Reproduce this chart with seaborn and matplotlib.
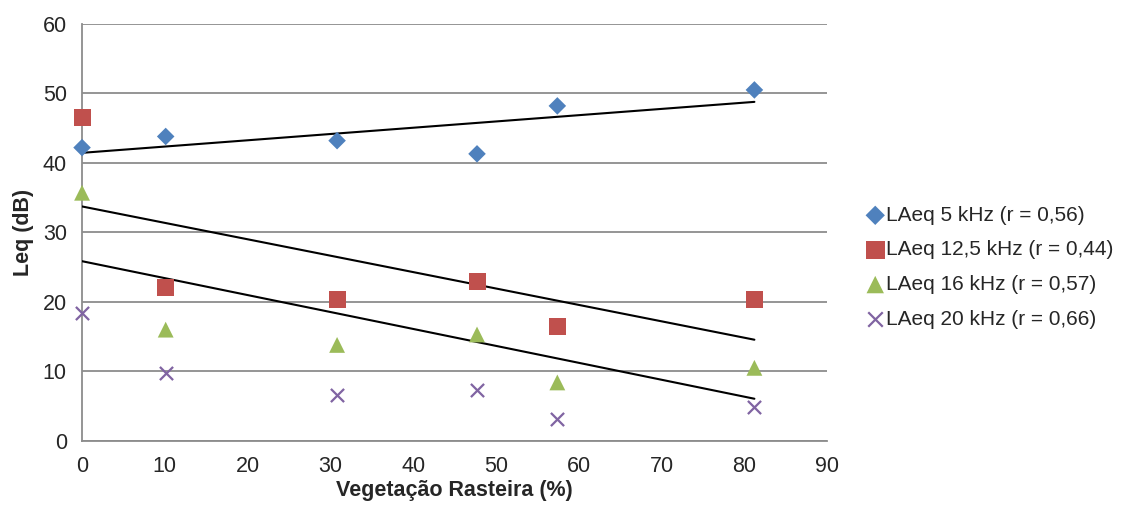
import numpy as np
import pandas as pd
import matplotlib
matplotlib.use('Agg')
import matplotlib.pyplot as plt
import seaborn as sns

# % de vegetacao rasteira por ponto
vegetacao = [0, 10.1, 30.8, 47.7, 57.4, 81.2]

laeq_5k = [42.2, 43.8, 43.2, 41.3, 48.2, 50.5]
laeq_12k5 = [46.5, 22.1, 20.4, 22.9, 16.4, 20.4]
laeq_16k = [35.7, 16.0, 13.8, 15.3, 8.4, 10.5]
laeq_20k = [18.4, 9.7, 6.6, 7.3, 3.2, 4.8]

series_labels = ['LAeq 5 kHz (r = 0,56)', 'LAeq 12,5 kHz (r = 0,44)',
                 'LAeq 16 kHz (r = 0,57)', 'LAeq 20 kHz (r = 0,66)']
# quais series tem linha de tendencia
with_trend = [True, True, True, False]

colors = ['#4F81BD', '#C0504D', '#9BBB59', '#8064A2']
markers = ['D', 's', '^', 'x']
sizes = [80, 150, 130, 90]

sns.set_style('white')
plt.rcParams['font.family'] = ['Liberation Sans', 'DejaVu Sans']

fig = plt.figure(figsize=(11.24, 5.09), dpi=100)
ax = fig.add_axes([0.073, 0.134, 0.663, 0.819])

all_series = [laeq_5k, laeq_12k5, laeq_16k, laeq_20k]
for vals, lab, c, m, s, trend in zip(all_series, series_labels, colors, markers, sizes, with_trend):
    df = pd.DataFrame({'veg': vegetacao, 'leq': vals})
    if trend:
        sns.regplot(data=df, x='veg', y='leq', ax=ax, scatter=False, ci=None,
                    truncate=True, line_kws={'color': 'black', 'lw': 1.5, 'zorder': 3})
    kw = {'edgecolor': 'none'} if m != 'x' else {'linewidth': 1.6}
    sns.scatterplot(data=df, x='veg', y='leq', ax=ax, color=c, marker=m, s=s,
                    label=lab, zorder=4, clip_on=False, **kw)

ax.set_xlim(0, 90)
ax.set_ylim(0, 60)
ax.set_xticks(range(0, 91, 10))
ax.set_yticks(range(0, 61, 10))
ax.grid(axis='y', color='#8c8c8c', lw=1.3)
ax.set_axisbelow(True)
for sp in ['top', 'right']:
    ax.spines[sp].set_visible(False)
for sp in ['left', 'bottom']:
    ax.spines[sp].set_color('#8c8c8c')
    ax.spines[sp].set_linewidth(1.3)
ax.tick_params(axis='both', direction='out', length=6, width=1.2, color='#8c8c8c',
               labelsize=15.5, pad=5)
ax.set_xlabel('Vegetação Rasteira (%)', fontsize=15.5, fontweight='bold', labelpad=2)
ax.set_ylabel('Leq (dB)', fontsize=15.5, fontweight='bold', labelpad=6)

ax.legend(loc='center left', bbox_to_anchor=(0.762, 0.475), bbox_transform=fig.transFigure,
          frameon=False, fontsize=15, handletextpad=0.0, labelspacing=0.75,
          borderaxespad=0, handlelength=1.0, markerscale=1.1)

fig.savefig('out.png', dpi=100)
